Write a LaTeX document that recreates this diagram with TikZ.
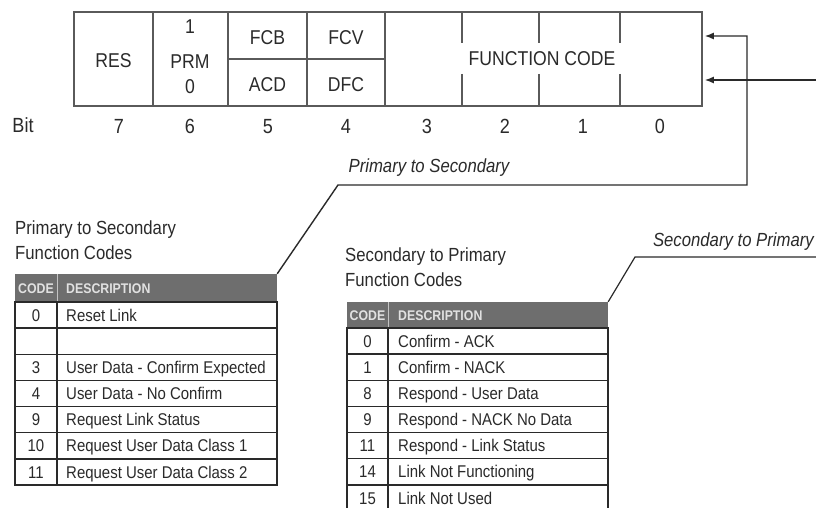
\documentclass[tikz,border=0pt]{standalone}
\usepackage{fontspec}
\setmainfont{Liberation Sans}[FakeStretch=0.88]
\usetikzlibrary{arrows.meta,positioning}
\definecolor{inkgray}{RGB}{42,42,42}
\definecolor{framegray}{RGB}{90,90,90}
\definecolor{headgray}{RGB}{110,110,110}
\definecolor{headtext}{RGB}{225,225,225}

\begin{document}
\begin{tikzpicture}[x=1pt, y=-1pt,
    field/.style={font=\fontsize{20}{20}\selectfont, text=inkgray, inner sep=0pt, text height=14.3pt, text depth=0pt},
    bitnum/.style={font=\fontsize{20.5}{20.5}\selectfont, text=inkgray, inner sep=0pt, text height=14.7pt, text depth=0pt},
    title/.style={font=\fontsize{19}{19}\selectfont, text=inkgray, anchor=west, inner sep=0pt, text height=13.6pt, text depth=0pt},
    tag/.style={font=\itshape\fontsize{19}{19}\selectfont, text=inkgray, inner sep=0pt, text height=13.6pt, text depth=0pt},
    codecell/.style={font=\fontsize{17}{17}\selectfont, text=inkgray, inner sep=0pt, text height=12.2pt, text depth=0pt},
    desccell/.style={font=\fontsize{17}{17}\selectfont, text=inkgray, anchor=west, inner sep=0pt, text height=12.2pt, text depth=0pt},
    headcell/.style={font=\bfseries\fontsize{14}{14}\selectfont, text=headtext, inner sep=0pt, text height=10pt, text depth=0pt},
    headbar/.style={fill=headgray, inner sep=0pt},
    rule/.style={draw=inkgray, line width=1.4pt},
    feed/.style={-{Latex[length=9pt, width=7pt]}, line width=1.4pt, inkgray, shorten >=2pt},
    link/.style={line width=1.2pt, inkgray}]

\clip (0,0) rectangle (816,508);
\fill[white] (0,0) rectangle (816,508);

% control field register
\node[draw=framegray, line width=1.6pt, minimum width=628pt, minimum height=94pt, inner sep=0pt] (reg) at (388,59) {};
\foreach \x in {153,228,307,385}
  \draw[framegray, line width=1.6pt] (\x,12) -- (\x,106);
\draw[framegray, line width=1.6pt] (228,59) -- (385,59);
% function code dividers are broken round the text
\foreach \x in {462,539,620} {
  \draw[framegray, line width=1.6pt] (\x,12) -- (\x,43);
  \draw[framegray, line width=1.6pt] (\x,74) -- (\x,106);
}

\node[field] (res)  at (113.5,60) {RES};
\node[field] (prm1) at (190,26)   {1};
\node[field] (prm)  at (190,61)   {PRM};
\node[field] (prm0) at (190,86)   {0};
\node[field] (fcb)  at (267.5,37) {FCB};
\node[field] (acd)  at (267.5,84) {ACD};
\node[field] (fcv)  at (346,37)   {FCV};
\node[field] (dfc)  at (346,84)   {DFC};
\node[field] (fcode) at (542,58)  {FUNCTION CODE};

% bit numbers under the register
\node[bitnum] (bit) at (23,125) {Bit};
\foreach \b/\x in {7/119, 6/190, 5/268, 4/346, 3/427, 2/505, 1/583, 0/660}
  \node[bitnum] (bit\b) at (\x,126) {\b};

\node[tag] (p2slabel) at (429,166) {Primary to Secondary};
\node[tag, anchor=east] (s2plabel) at (814,240) {Secondary to Primary};

% left table: primary to secondary
\node[title] (ptitle)  at (15,228) {Primary to Secondary};
\node[title] (ptitle2) at (15,253) {Function Codes};
\node[headbar, minimum width=262pt, minimum height=28pt] (phead) at (146,288) {};
\node[headcell] (pcode) at (36,288) {CODE};
\node[headcell, anchor=west] (pdesc) at (66,288) {DESCRIPTION};
\draw[headtext!70!gray, line width=1pt] (57,274) -- (57,302);
\draw[rule] (15,302) rectangle (277,485);
\draw[rule] (57,302) -- (57,485);
\foreach \r in {1,...,6}
  \draw[rule] (15,{302+26.14*\r}) -- (277,{302+26.14*\r});
\foreach \r/\code/\desc in {0/0/Reset Link, 2/3/User Data - Confirm Expected,
    3/4/User Data - No Confirm, 4/9/Request Link Status,
    5/10/Request User Data Class 1, 6/11/Request User Data Class 2} {
  \node[codecell] (pc\r) at (36,{302+26.14*(\r+0.5)}) {\code};
  \node[desccell] (pd\r) at (66,{302+26.14*(\r+0.5)}) {\desc};
}

% right table: secondary to primary
\node[title] (stitle)  at (345,255) {Secondary to Primary};
\node[title] (stitle2) at (345,280) {Function Codes};
\node[headbar, minimum width=261pt, minimum height=26pt] (shead) at (477.5,315) {};
\node[headcell] (scode) at (367.5,315) {CODE};
\node[headcell, anchor=west] (sdesc) at (398,315) {DESCRIPTION};
\draw[headtext!70!gray, line width=1pt] (388,302) -- (388,328);
\draw[rule] (347,328) rectangle (608,511);
\draw[rule] (388,328) -- (388,511);
\foreach \r in {1,...,6}
  \draw[rule] (347,{328+26.15*\r}) -- (608,{328+26.15*\r});
\foreach \r/\code/\desc in {0/0/Confirm - ACK, 1/1/Confirm - NACK,
    2/8/Respond - User Data, 3/9/Respond - NACK No Data,
    4/11/Respond - Link Status, 5/14/Link Not Functioning, 6/15/Link Not Used} {
  \node[codecell] (sc\r) at (367.5,{328+26.15*(\r+0.5)}) {\code};
  \node[desccell] (sd\r) at (398,{328+26.15*(\r+0.5)}) {\desc};
}

% connectors
\coordinate (p2sbend)   at (338,185);
\coordinate (p2scorner) at (747,185);
\coordinate (p2stop)    at (747,36);
\coordinate (s2pbend)   at (635,257);
\coordinate (s2pend)    at (816,257);
\coordinate (s2pin)     at (816,80);
\draw[feed] (phead.north east) -- (p2sbend) -- (p2scorner) -- (p2stop) -- ([yshift=23pt]reg.east);
\draw[feed] (s2pin) -- ([yshift=-21pt]reg.east);
\draw[link] (shead.north east) -- (s2pbend) -- (s2pend);

\end{tikzpicture}
\end{document}
